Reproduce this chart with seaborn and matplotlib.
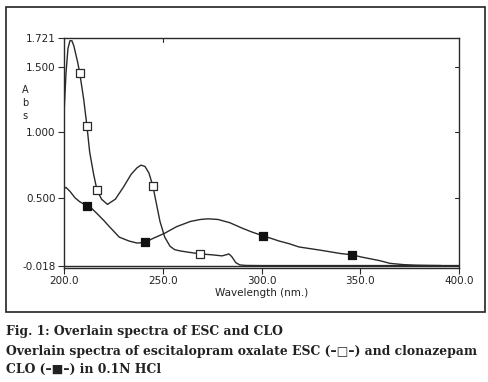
import matplotlib
matplotlib.use("Agg")
import matplotlib.pyplot as plt
import seaborn as sns
import pandas as pd
from matplotlib.patches import Rectangle

# escitalopram oxalate (ESC) spectrum
esc_nm = [200, 201, 202, 203, 204, 205, 207, 208, 210, 211.6, 213, 215, 216.7, 219, 222, 226,
          230, 234, 237, 239, 241, 243, 245, 247, 248.6, 251, 253.7, 256, 258.7, 263, 269,
          275, 280, 282, 283.5, 285, 287, 289, 292, 300, 320, 350, 380, 400]
esc_abs = [1.14, 1.45, 1.64, 1.70, 1.70, 1.66, 1.53, 1.45, 1.25, 1.05, 0.85, 0.68, 0.56, 0.49, 0.45, 0.49,
           0.58, 0.68, 0.73, 0.75, 0.74, 0.69, 0.59, 0.44, 0.32, 0.20, 0.13, 0.105, 0.095, 0.085, 0.072,
           0.065, 0.057, 0.065, 0.072, 0.05, 0.005, -0.012, -0.016, -0.017, -0.017, -0.017, -0.017, -0.017]
esc_mk_nm = [208, 211.6, 216.7, 245, 269]
esc_mk_abs = [1.45, 1.05, 0.56, 0.59, 0.072]

# clonazepam (CLO) spectrum
clo_nm = [200, 201, 203, 205.6, 208, 211.6, 214, 216.7, 220, 223, 228, 233, 237, 241, 245, 251,
          257, 264, 269, 273, 278, 284, 290, 295, 300.8, 305, 309, 314, 319, 330, 340, 346,
          350, 355, 360, 365, 372, 378, 385, 391]
clo_abs = [0.57, 0.58, 0.55, 0.50, 0.47, 0.44, 0.42, 0.38, 0.33, 0.28, 0.20, 0.17, 0.155, 0.16, 0.19, 0.23,
           0.28, 0.32, 0.335, 0.34, 0.335, 0.31, 0.27, 0.24, 0.21, 0.19, 0.17, 0.15, 0.125, 0.10, 0.075, 0.065,
           0.05, 0.035, 0.02, 0.0, -0.01, -0.014, -0.016, -0.017]
clo_mk_nm = [211.6, 241, 300.8, 346]
clo_mk_abs = [0.44, 0.16, 0.21, 0.065]

x_ticks = [200, 250, 300, 350, 400]
x_labels = ["200.0", "250.0", "300.0", "350.0", "400.0"]
y_ticks = [-0.018, 0.5, 1.0, 1.5, 1.721]
y_labels = ["-0.018", "0.500", "1.000", "1.500", "1.721"]

sns.set_style("white")
plt.rcParams["font.family"] = ["DejaVu Sans"]

fig = plt.figure(figsize=(4.89, 3.82), dpi=100)
ax = fig.add_axes([64 / 489, 1 - 268 / 382, (459 - 64) / 489, (268 - 38) / 382])

line_col = "#2a2a2a"
sns.lineplot(x=esc_nm, y=esc_abs, ax=ax, color=line_col, linewidth=1.0, sort=False)
sns.lineplot(x=clo_nm, y=clo_abs, ax=ax, color=line_col, linewidth=1.0, sort=False)
sns.scatterplot(x=esc_mk_nm, y=esc_mk_abs, ax=ax, marker="s", s=30, facecolor="white",
                edgecolor=line_col, linewidth=0.9, zorder=5)
sns.scatterplot(x=clo_mk_nm, y=clo_mk_abs, ax=ax, marker="s", s=30, color="#111111",
                edgecolor="#111111", linewidth=0.9, zorder=5)

ax.axhline(-0.018, color=line_col, linewidth=1.0)
ax.set_xlim(200, 400)
ax.set_ylim(-0.0356, 1.721)

for sp in ax.spines.values():
    sp.set_color(line_col)
    sp.set_linewidth(1.0)

ax.set_xticks(x_ticks)
ax.set_xticklabels(x_labels, fontsize=7.5)
ax.set_yticks(y_ticks)
ax.set_yticklabels(y_labels, fontsize=7.5)
ax.tick_params(axis="both", direction="out", length=4, width=0.8, color=line_col, pad=2,
               labelcolor="#222222")
ax.tick_params(axis="y", left=True)
ax.tick_params(axis="x", bottom=True)

# inner ticks on top and right, like the instrument plot
for xt in [250]:
    ax.plot([xt, xt], [1.721, 1.69], color=line_col, linewidth=0.8, clip_on=False)
for yt in [0.5, 1.0, 1.5]:
    ax.plot([400, 398.2], [yt, yt], color=line_col, linewidth=0.8, clip_on=False)

ax.set_xlabel("Wavelength (nm.)", fontsize=7.5, labelpad=1, color="#222222")
ax.set_ylabel("")
fig.text(25 / 489, 1 - 103 / 382, "A\nb\ns", fontsize=7, ha="center", va="center",
         linespacing=1.4, color="#222222")

# outer frame around the chart
fig.patches.append(Rectangle((6 / 489, 1 - 312 / 382), (485 - 6) / 489, (312 - 7) / 382,
                             transform=fig.transFigure, fill=False, edgecolor="#222222",
                             linewidth=1.2))

cap_font = ["DejaVu Serif", "DejaVu Sans"]
cap_size = 8.9
fig.text(6 / 489, 1 - 332 / 382, "Fig. 1: Overlain spectra of ESC and CLO", fontsize=cap_size,
         fontweight="bold", family=cap_font, va="center", color="#222222")
fig.text(6 / 489, 1 - 351 / 382,
         "Overlain spectra of escitalopram oxalate ESC (\u2013\u25a1\u2013) and clonazepam",
         fontsize=cap_size, fontweight="bold", family=cap_font, va="center", color="#222222")
fig.text(6 / 489, 1 - 369 / 382, "CLO (\u2013\u25a0\u2013) in 0.1N HCl", fontsize=cap_size,
         fontweight="bold", family=cap_font, va="center", color="#222222")

fig.savefig("out.png", dpi=100)
